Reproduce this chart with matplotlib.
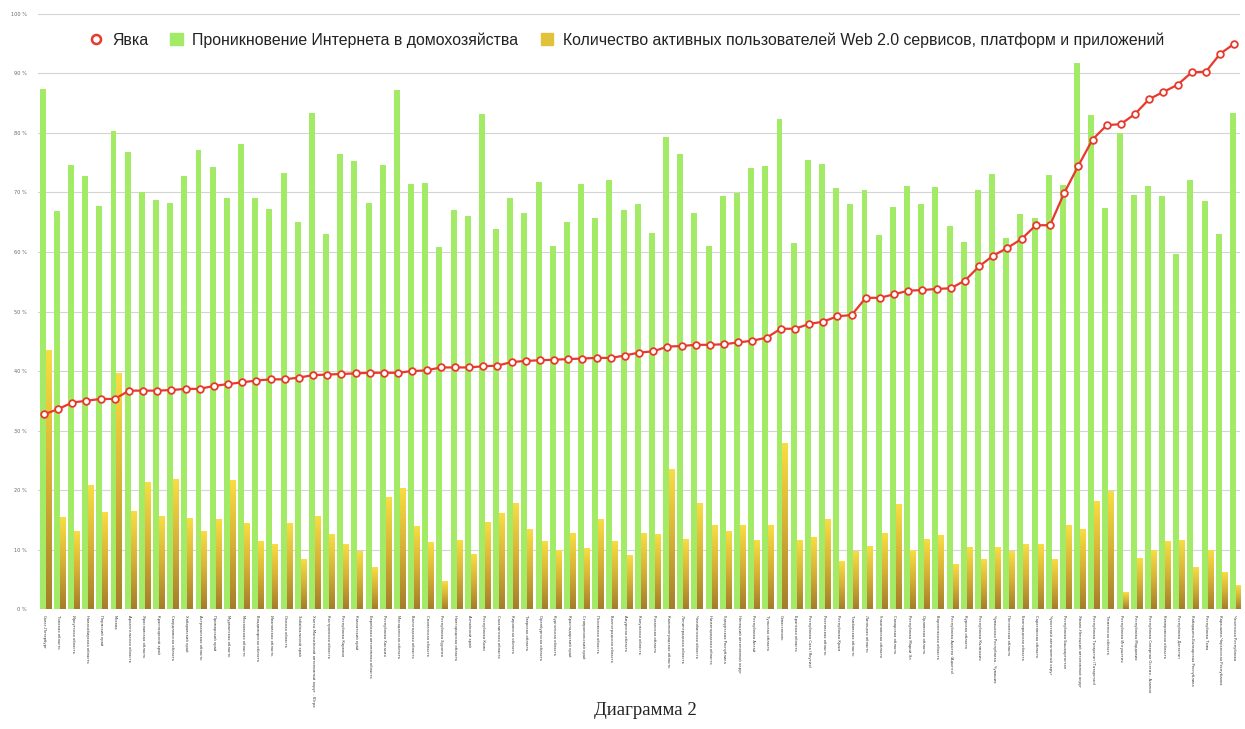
import numpy as np
import matplotlib
matplotlib.use('Agg')
import matplotlib.pyplot as plt
from matplotlib.colors import LinearSegmentedColormap
from matplotlib.lines import Line2D
from matplotlib.patches import Patch

# Регионы, отсортированные по явке
regions = [
    'Санкт-Петербург', 'Томская область', 'Иркутская область', 'Новосибирская область',
    'Пермский край', 'Москва', 'Архангельская область', 'Ярославская область',
    'Красноярский край', 'Свердловская область', 'Хабаровский край', 'Астраханская область',
    'Приморский край', 'Мурманская область', 'Московская область', 'Владимирская область',
    'Ивановская область', 'Омская область', 'Забайкальский край',
    'Ханты-Мансийский автономный округ - Югра', 'Костромская область', 'Республика Карелия',
    'Камчатский край', 'Еврейская автономная область', 'Республика Хакасия',
    'Магаданская область', 'Вологодская область', 'Смоленская область', 'Республика Бурятия',
    'Новгородская область', 'Алтайский край', 'Республика Коми', 'Сахалинская область',
    'Кировская область', 'Тверская область', 'Оренбургская область', 'Курганская область',
    'Краснодарский край', 'Ставропольский край', 'Псковская область', 'Волгоградская область',
    'Амурская область', 'Калужская область', 'Рязанская область', 'Калининградская область',
    'Ленинградская область', 'Челябинская область', 'Нижегородская область',
    'Удмуртская Республика', 'Ненецкий автономный округ', 'Республика Алтай',
    'Тульская область', 'Севастополь', 'Брянская область', 'Республика Саха (Якутия)',
    'Ростовская область', 'Республика Крым', 'Тамбовская область', 'Липецкая область',
    'Ульяновская область', 'Самарская область', 'Республика Марий Эл', 'Орловская область',
    'Воронежская область', 'Республика Адыгея (Адыгея)', 'Курская область',
    'Республика Калмыкия', 'Чувашская Республика - Чувашия', 'Пензенская область',
    'Белгородская область', 'Саратовская область', 'Чукотский автономный округ',
    'Республика Башкортостан', 'Ямало-Ненецкий автономный округ',
    'Республика Татарстан (Татарстан)', 'Тюменская область', 'Республика Ингушетия',
    'Республика Мордовия', 'Республика Северная Осетия - Алания', 'Кемеровская область',
    'Республика Дагестан', 'Кабардино-Балкарская Республика', 'Республика Тыва',
    'Карачаево-Черкесская Республика', 'Чеченская Республика',
]

# Явка, %
yavka = [
    32.7, 33.6, 34.7, 35.0, 35.3, 35.3, 36.7, 36.7, 36.7, 36.8,
    37.0, 37.0, 37.5, 37.8, 38.1, 38.4, 38.6, 38.6, 38.9, 39.3,
    39.4, 39.5, 39.6, 39.7, 39.7, 39.7, 40.0, 40.1, 40.6, 40.6,
    40.6, 40.8, 40.9, 41.5, 41.7, 41.8, 41.9, 42.0, 42.1, 42.2,
    42.2, 42.6, 43.1, 43.3, 44.1, 44.2, 44.4, 44.4, 44.5, 44.8,
    45.1, 45.6, 47.1, 47.1, 47.9, 48.3, 49.2, 49.4, 52.3, 52.3,
    52.9, 53.5, 53.6, 53.8, 53.9, 55.2, 57.6, 59.4, 60.7, 62.2,
    64.5, 64.5, 69.9, 74.5, 78.9, 81.3, 81.5, 83.2, 85.7, 86.9,
    88.1, 90.2, 90.3, 93.3, 95.0,
]

# Проникновение Интернета в домохозяйства, %
internet = [
    87.4, 66.9, 74.6, 72.7, 67.7, 80.4, 76.8, 70.0, 68.7, 68.2,
    72.7, 77.2, 74.3, 69.1, 78.1, 69.1, 67.2, 73.3, 65.1, 83.3,
    63.1, 76.5, 75.3, 68.2, 74.6, 87.3, 71.4, 71.6, 60.9, 67.1,
    66.1, 83.2, 63.9, 69.0, 66.6, 71.8, 61.0, 65.0, 71.4, 65.7,
    72.1, 67.0, 68.0, 63.2, 79.4, 76.4, 66.6, 61.0, 69.4, 69.9,
    74.2, 74.4, 82.4, 61.5, 75.4, 74.8, 70.8, 68.0, 70.4, 62.9,
    67.6, 71.1, 68.0, 70.9, 64.3, 61.6, 70.4, 73.1, 62.3, 66.4,
    65.7, 73.0, 71.2, 91.7, 83.1, 67.4, 80.0, 69.5, 71.1, 69.4,
    59.6, 72.1, 68.6, 63.0, 83.3,
]

# Количество активных пользователей Web 2.0, %
web20 = [
    43.5, 15.3, 13.0, 20.7, 16.3, 39.6, 16.4, 21.3, 15.6, 21.8,
    15.2, 13.0, 15.1, 21.6, 14.4, 11.4, 10.8, 14.3, 8.3, 15.6,
    12.6, 10.8, 9.6, 6.9, 18.8, 20.3, 13.9, 11.1, 4.7, 11.5,
    9.2, 14.6, 16.1, 17.8, 13.4, 11.4, 9.9, 12.7, 10.2, 15.1,
    11.4, 9.0, 12.7, 12.5, 23.4, 11.7, 17.8, 14.1, 13.0, 14.0,
    11.5, 14.1, 27.8, 11.5, 12.1, 15.0, 8.0, 9.6, 10.5, 12.7,
    17.5, 9.9, 11.7, 12.4, 7.5, 10.3, 8.3, 10.3, 9.6, 10.9,
    10.8, 8.3, 14.1, 13.3, 18.1, 19.8, 2.8, 8.5, 9.9, 11.4,
    11.5, 7.0, 9.8, 6.1, 4.0,
]

series_names = ['Явка', 'Проникновение Интернета в домохозяйства',
                'Количество активных пользователей Web 2.0 сервисов, платформ и приложений']

green = '#a3ea67'
red = '#e8392d'
gold = LinearSegmentedColormap.from_list('gold', ['#a57d2a', '#d6b036', '#f8dd42'])

fig = plt.figure(figsize=(12.45, 7.29), dpi=100)
ax = fig.add_axes([0.0305, 0.1646, 0.9655, 0.8162])

x = np.arange(len(regions))
w = 0.42

ax.bar(x - w / 2, internet, width=w, color=green, zorder=2)

# жёлтые столбцы с вертикальным градиентом
grad = np.linspace(0, 1, 128).reshape(-1, 1)
for xi, h in zip(x, web20):
    ax.imshow(grad, extent=[xi, xi + w, 0, h], origin='lower', aspect='auto',
              cmap=gold, zorder=2, interpolation='bilinear')

ax.plot(x - 0.12, yavka, color=red, lw=1.6, marker='o', ms=4.8,
        mfc='white', mec=red, mew=1.3, zorder=4)

ax.set_xlim(-0.54, 84.29)
ax.set_ylim(0, 100)
ax.set_yticks(range(0, 101, 10))
ax.set_yticklabels([f'{v} %' for v in range(0, 101, 10)], fontsize=3.6, color='#666666')
ax.yaxis.grid(True, color='#d4d4d4', lw=0.8, zorder=0)
ax.set_axisbelow(True)
ax.tick_params(axis='y', length=0, pad=8)

ax.set_xticks(x - 0.1)
ax.set_xticklabels(regions, rotation=270, fontsize=2.7, ha='center', va='top', color='#333333')
ax.tick_params(axis='x', length=0, pad=4)

for s in ax.spines.values():
    s.set_visible(False)

handles = [
    Line2D([], [], color=red, marker='o', ms=6.5, mfc='white', mec=red, mew=1.8, lw=0),
    Patch(color=green),
    Patch(color='#e2c23a'),
]
ax.legend(handles, series_names, loc='center', bbox_to_anchor=(0.49, 0.956), ncol=3,
          frameon=False, prop={'family': 'Liberation Sans', 'size': 11.4},
          labelcolor='#222222',
          handlelength=0.8, handleheight=0.8, handletextpad=0.6, columnspacing=1.4)

fig.text(0.518, 0.026, 'Диаграмма 2', family='Liberation Serif', fontsize=13.5,
         ha='center', va='center', color='#222222')

fig.savefig('out.png', dpi=100)
